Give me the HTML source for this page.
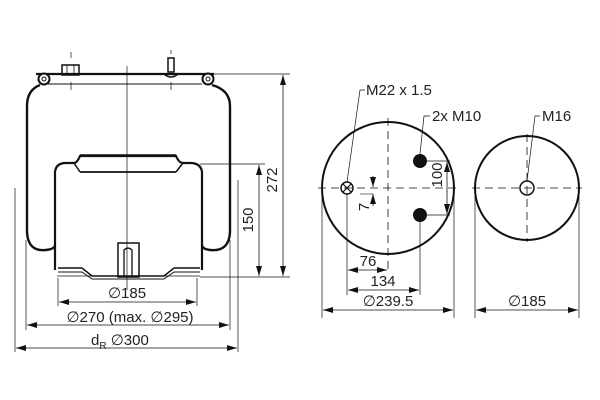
<!DOCTYPE html>
<html><head><style>
html,body{margin:0;padding:0;background:#fff;}
svg{display:block;}
text{font-family:"Liberation Sans",sans-serif;font-size:15px;fill:#222;}
</style></head><body>
<svg width="600" height="400" viewBox="0 0 600 400" xmlns="http://www.w3.org/2000/svg">
<defs>
<marker id="a" markerWidth="10" markerHeight="6" refX="10" refY="3" orient="auto-start-reverse" markerUnits="userSpaceOnUse">
<path d="M0,0 L10,3 L0,6 z" fill="#111"/></marker>
</defs>
<g stroke="#111" fill="none">
<line x1="127" y1="66" x2="127" y2="290" stroke-width="0.7"/>
<line x1="71" y1="52" x2="71" y2="58" stroke-width="0.7"/>
<line x1="71" y1="82" x2="71" y2="90" stroke-width="0.7"/>
<line x1="171" y1="50" x2="171" y2="54" stroke-width="0.7"/>
<line x1="171" y1="82" x2="171" y2="90" stroke-width="0.7"/>
<line x1="36" y1="74" x2="214" y2="74" stroke-width="2.2"/>
<line x1="48" y1="84" x2="202" y2="84" stroke-width="1"/>
<circle cx="44" cy="79" r="5.5" stroke-width="2" fill="#fff"/>
<circle cx="44" cy="79" r="2" stroke-width="1"/>
<circle cx="208" cy="79" r="5.5" stroke-width="2" fill="#fff"/>
<circle cx="208" cy="79" r="2" stroke-width="1"/>
<rect x="62" y="65" width="17" height="10" stroke-width="1.5"/>
<line x1="67" y1="65" x2="67" y2="75" stroke-width="0.8"/>
<line x1="74" y1="65" x2="74" y2="75" stroke-width="0.8"/>
<rect x="168" y="58" width="6" height="14" stroke-width="1.5"/>
<path d="M164,74 Q171,80 178,74" stroke-width="1.5"/>
<path d="M40,85 Q27,90 27,106 L27,232 Q28,252 46,250 Q55,249 55,245" stroke-width="2.4"/>
<path d="M212,85 Q230,90 230,106 L230,232 Q229,252 210,250 Q202,249 202,245" stroke-width="2.4"/>
<path d="M55,270 L55,172 Q56,163 66,163 L74,163 Q77,163 80,156 L176,156 Q179,163 183,163 L192,163 Q201,164 202,172 L202,270" stroke-width="2.2"/>
<line x1="80" y1="155" x2="176" y2="155" stroke-width="1.5"/>
<line x1="80" y1="172" x2="176" y2="172" stroke-width="1.8"/>
<path d="M74,163 L80,172 M183,163 L176,172" stroke-width="1.5"/>
<path d="M58,268 L82,268 L92,276 L164,276 L174,268 L200,268" stroke-width="1.5"/>
<path d="M58,272 L82,272 L92,279 L164,279 L174,272 L200,272" stroke-width="1"/>
<line x1="57" y1="276" x2="200" y2="276" stroke-width="0.8"/>
<rect x="118" y="243" width="21" height="34" stroke-width="1.5"/>
<path d="M124,277 L124,250 Q128,246 132,250 L132,277" stroke-width="1.3"/>
<line x1="214" y1="74" x2="290" y2="74" stroke-width="0.7"/>
<line x1="200" y1="164" x2="265" y2="164" stroke-width="0.7"/>
<line x1="200" y1="277" x2="290" y2="277" stroke-width="0.7"/>
<line x1="15" y1="188" x2="15" y2="352" stroke-width="0.7"/>
<line x1="238" y1="180" x2="238" y2="352" stroke-width="0.7"/>
<line x1="26" y1="240" x2="26" y2="330" stroke-width="0.7"/>
<line x1="230" y1="240" x2="230" y2="330" stroke-width="0.7"/>
<line x1="58" y1="278" x2="58" y2="306" stroke-width="0.7"/>
<line x1="197" y1="278" x2="197" y2="306" stroke-width="0.7"/>
<line x1="283" y1="75" x2="283" y2="276" stroke-width="0.8" marker-start="url(#a)" marker-end="url(#a)"/>
<line x1="259" y1="165" x2="259" y2="276" stroke-width="0.8" marker-start="url(#a)" marker-end="url(#a)"/>
<line x1="59" y1="302" x2="196" y2="302" stroke-width="0.8" marker-start="url(#a)" marker-end="url(#a)"/>
<line x1="27" y1="325" x2="229" y2="325" stroke-width="0.8" marker-start="url(#a)" marker-end="url(#a)"/>
<line x1="16" y1="348" x2="237" y2="348" stroke-width="0.8" marker-start="url(#a)" marker-end="url(#a)"/>

<circle cx="388" cy="188" r="66" stroke-width="2"/>
<line x1="318" y1="188" x2="458" y2="188" stroke-width="0.8" stroke-dasharray="8,5"/>
<line x1="388" y1="118" x2="388" y2="270" stroke-width="0.8" stroke-dasharray="8,5"/>
<circle cx="347" cy="188" r="6" stroke-width="1.5"/>
<path d="M343,184 L351,192 M351,184 L343,192" stroke-width="1.2"/>
<circle cx="420" cy="161" r="7" fill="#111" stroke="none"/>
<circle cx="420" cy="215" r="7" fill="#111" stroke="none"/>
<line x1="427" y1="161" x2="450" y2="161" stroke-width="0.7"/>
<line x1="427" y1="215" x2="450" y2="215" stroke-width="0.7"/>
<line x1="447" y1="162" x2="447" y2="214" stroke-width="0.8" marker-start="url(#a)" marker-end="url(#a)"/>
<line x1="373" y1="176" x2="373" y2="187" stroke-width="0.8" marker-end="url(#a)"/>
<line x1="373" y1="206" x2="373" y2="194" stroke-width="0.8" marker-end="url(#a)"/>
<line x1="373" y1="194" x2="360" y2="194" stroke-width="0.6"/>
<line x1="347" y1="194" x2="347" y2="295" stroke-width="0.7"/>
<line x1="420" y1="222" x2="420" y2="295" stroke-width="0.7"/>
<line x1="348" y1="270" x2="387" y2="270" stroke-width="0.8" marker-start="url(#a)" marker-end="url(#a)"/>
<line x1="348" y1="290" x2="419" y2="290" stroke-width="0.8" marker-start="url(#a)" marker-end="url(#a)"/>
<line x1="322" y1="190" x2="322" y2="318" stroke-width="0.7"/>
<line x1="454" y1="190" x2="454" y2="318" stroke-width="0.7"/>
<line x1="323" y1="310" x2="453" y2="310" stroke-width="0.8" marker-start="url(#a)" marker-end="url(#a)"/>
<polyline points="347,182 360,90 365,90" stroke-width="0.7"/>
<polyline points="420,154 424,116 430,116" stroke-width="0.7"/>

<circle cx="527" cy="188" r="52" stroke-width="2"/>
<line x1="472" y1="188" x2="582" y2="188" stroke-width="0.8" stroke-dasharray="8,5"/>
<line x1="527" y1="134" x2="527" y2="242" stroke-width="0.8" stroke-dasharray="8,5"/>
<circle cx="527" cy="188" r="7" stroke-width="1.5"/>
<polyline points="527,181 535,116 540,116" stroke-width="0.7"/>
<line x1="475" y1="190" x2="475" y2="318" stroke-width="0.7"/>
<line x1="579" y1="190" x2="579" y2="318" stroke-width="0.7"/>
<line x1="476" y1="310" x2="578" y2="310" stroke-width="0.8" marker-start="url(#a)" marker-end="url(#a)"/>
</g>
<text x="127" y="298" text-anchor="middle">∅185</text>
<text x="130" y="322" text-anchor="middle">∅270 (max. ∅295)</text>
<text x="91" y="345">d<tspan font-size="10" dy="4">R</tspan><tspan dy="-4"> ∅300</tspan></text>
<text transform="translate(277,180) rotate(-90)" text-anchor="middle">272</text>
<text transform="translate(253,220) rotate(-90)" text-anchor="middle">150</text>
<text x="366" y="95">M22 x 1.5</text>
<text x="432" y="121">2x M10</text>
<text x="542" y="121">M16</text>
<text transform="translate(442,175) rotate(-90)" text-anchor="middle">100</text>
<text transform="translate(369,207) rotate(-90)" text-anchor="middle" font-size="13">7</text>
<text x="368" y="266" text-anchor="middle">76</text>
<text x="383" y="286" text-anchor="middle">134</text>
<text x="388" y="306" text-anchor="middle">∅239.5</text>
<text x="527" y="306" text-anchor="middle">∅185</text>
</svg>
</body></html>
